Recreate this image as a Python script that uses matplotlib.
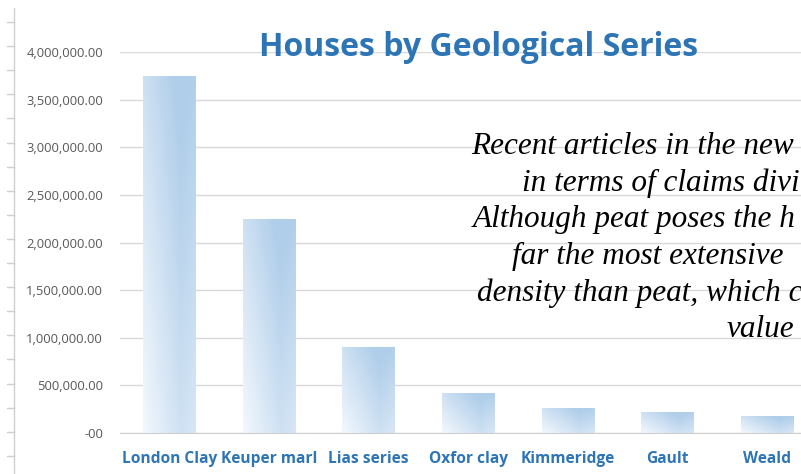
import numpy as np
import matplotlib.pyplot as plt
from matplotlib.lines import Line2D

# house counts per geological series
series = ["London Clay", "Keuper marl", "Lias series", "Oxfor clay",
          "Kimmeridge", "Gault", "Weald"]
houses = [3750000, 2250000, 900000, 418000, 266000, 217000, 178000]

note_lines = [
    "Recent articles in the new",
    "in terms of claims divi",
    "Although peat poses the h",
    "far the most extensive",
    "density than peat, which c",
    "value",
]
note_x = [471, 522, 473, 512, 477, 727]

TITLE_BLUE = "#2e75b6"
GRID = "#d9d9d9"
LIGHT = np.array([243, 248, 253]) / 255
DARK = np.array([176, 206, 234]) / 255


def bar_gradient(n=64):
    u = np.linspace(0, 1, n)[None, :]
    v = np.linspace(0, 1, n)[:, None]
    # lighter toward the bottom-left, peak blue near right side
    hx = np.clip(u / 0.72, 0, 1) - np.clip((u - 0.72) / 0.28, 0, 1) * 0.25
    t = np.clip(0.55 * hx + 0.55 * v, 0, 1)
    return LIGHT + (DARK - LIGHT) * t[..., None]


fig = plt.figure(figsize=(8.01, 4.74), dpi=100)
W, H = 801, 474
ax = fig.add_axes([119.7 / W, 41 / H, 7 * 99.6 / W, (433 - 52) / H])

x = np.arange(len(series))
bars = ax.bar(x, houses, width=0.53, color="none", edgecolor="none", zorder=2)
grad = bar_gradient()
for b in bars:
    x0, w, h = b.get_x(), b.get_width(), b.get_height()
    im = ax.imshow(grad, extent=(x0, x0 + w, 0, h), origin="lower",
                   aspect="auto", zorder=2, interpolation="bilinear")
    im.set_clip_path(b)

ax.set_xlim(-0.5, len(series) - 0.5)
ax.set_ylim(0, 4000000)
ax.set_yticks(np.arange(0, 4000001, 500000))
ax.set_yticklabels(["-00" if v == 0 else f"{v:,.2f}" for v in ax.get_yticks()],
                   fontfamily="Open Sans", fontsize=9.4, color="#595959")
ax.set_xticks(x)
ax.set_xticklabels(series, fontfamily="Open Sans", fontweight="bold",
                   fontsize=11.2, color=TITLE_BLUE)
ax.tick_params(axis="both", length=0)
ax.tick_params(axis="y", pad=12)
ax.tick_params(axis="x", pad=13)
ax.yaxis.grid(True, color=GRID, linewidth=1)
ax.set_axisbelow(True)
for side in ["top", "right", "left"]:
    ax.spines[side].set_visible(False)
ax.spines["bottom"].set_color("#cfcfcf")

fig.text(479 / W, 1 - 48 / H, "Houses by Geological Series",
         fontfamily="Open Sans", fontweight="bold", fontsize=23,
         color=TITLE_BLUE, ha="center", va="center")

for line, lx, k in zip(note_lines, note_x, range(len(note_lines))):
    fig.text(lx / W, 1 - (147 + k * 36.5) / H, line,
             fontfamily="Liberation Serif", style="italic", fontsize=22.5,
             color="black", ha="left", va="center")

# sheet row guide on the left edge
fig.add_artist(Line2D([13.5 / W, 13.5 / W], [0, 1 - 8 / H],
                      color="#d0d0d0", linewidth=1))
for ty in np.arange(22, 474, 24.1):
    fig.add_artist(Line2D([7 / W, 13.5 / W], [1 - ty / H, 1 - ty / H],
                          color="#d0d0d0", linewidth=1))

fig.savefig("out.png", dpi=100)
